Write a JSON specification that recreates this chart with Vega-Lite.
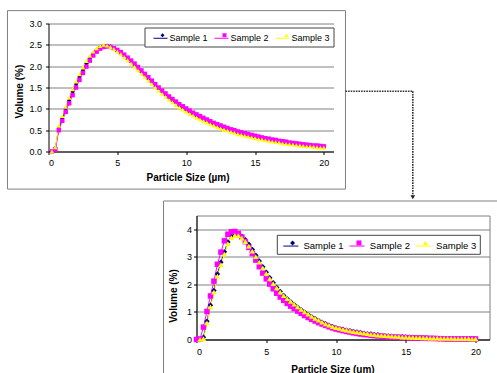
{
"$schema":"https://vega.github.io/schema/vega-lite/v6.json",
"background":"white",
"padding":{"left":6.5,"top":9.5,"right":0,"bottom":0},
"spacing":0,
"config":{"font":"Liberation Sans","view":{"stroke":null},
"axis":{"domainColor":"black","tickColor":"black","tickSize":3,"labelFont":"Liberation Sans","labelFontSize":9,"labelColor":"black","titleFont":"Liberation Sans","titleFontSize":10,"titleFontWeight":"bold","titleColor":"black","gridColor":"#808080","gridWidth":1,"labelOverlap":false},
"axisX":{"grid":false},"axisY":{"grid":true}},
"resolve":{"scale":{"stroke":"independent","fill":"independent","shape":"independent"}},
"datasets":{
"top":[
{"x":0.25,"s":"Sample 1","v":0},{"x":0.5,"s":"Sample 1","v":0.08},{"x":0.75,"s":"Sample 1","v":0.55},{"x":1,"s":"Sample 1","v":0.78},{"x":1.25,"s":"Sample 1","v":1},{"x":1.5,"s":"Sample 1","v":1.2},{"x":1.75,"s":"Sample 1","v":1.4},{"x":2,"s":"Sample 1","v":1.58},{"x":2.25,"s":"Sample 1","v":1.75},{"x":2.5,"s":"Sample 1","v":1.91},{"x":2.75,"s":"Sample 1","v":2.06},{"x":3,"s":"Sample 1","v":2.19},{"x":3.25,"s":"Sample 1","v":2.3},{"x":3.5,"s":"Sample 1","v":2.38},{"x":3.75,"s":"Sample 1","v":2.44},{"x":4,"s":"Sample 1","v":2.47},{"x":4.25,"s":"Sample 1","v":2.48},{"x":4.5,"s":"Sample 1","v":2.46},{"x":4.75,"s":"Sample 1","v":2.42},{"x":5,"s":"Sample 1","v":2.37},{"x":5.25,"s":"Sample 1","v":2.31},{"x":5.5,"s":"Sample 1","v":2.25},{"x":5.75,"s":"Sample 1","v":2.18},{"x":6,"s":"Sample 1","v":2.11},{"x":6.25,"s":"Sample 1","v":2.03},{"x":6.5,"s":"Sample 1","v":1.95},{"x":6.75,"s":"Sample 1","v":1.87},{"x":7,"s":"Sample 1","v":1.79},{"x":7.25,"s":"Sample 1","v":1.71},{"x":7.5,"s":"Sample 1","v":1.63},{"x":7.75,"s":"Sample 1","v":1.55},{"x":8,"s":"Sample 1","v":1.47},{"x":8.25,"s":"Sample 1","v":1.4},{"x":8.5,"s":"Sample 1","v":1.33},{"x":8.75,"s":"Sample 1","v":1.26},{"x":9,"s":"Sample 1","v":1.2},{"x":9.25,"s":"Sample 1","v":1.14},{"x":9.5,"s":"Sample 1","v":1.08},{"x":9.75,"s":"Sample 1","v":1.03},{"x":10,"s":"Sample 1","v":0.98},{"x":10.25,"s":"Sample 1","v":0.93},{"x":10.5,"s":"Sample 1","v":0.88},{"x":10.75,"s":"Sample 1","v":0.84},{"x":11,"s":"Sample 1","v":0.8},{"x":11.25,"s":"Sample 1","v":0.76},{"x":11.5,"s":"Sample 1","v":0.72},{"x":11.75,"s":"Sample 1","v":0.68},{"x":12,"s":"Sample 1","v":0.64},{"x":12.25,"s":"Sample 1","v":0.61},{"x":12.5,"s":"Sample 1","v":0.58},{"x":12.75,"s":"Sample 1","v":0.55},{"x":13,"s":"Sample 1","v":0.52},{"x":13.25,"s":"Sample 1","v":0.49},{"x":13.5,"s":"Sample 1","v":0.47},{"x":13.75,"s":"Sample 1","v":0.44},{"x":14,"s":"Sample 1","v":0.42},{"x":14.25,"s":"Sample 1","v":0.4},{"x":14.5,"s":"Sample 1","v":0.38},{"x":14.75,"s":"Sample 1","v":0.36},{"x":15,"s":"Sample 1","v":0.34},{"x":15.25,"s":"Sample 1","v":0.32},{"x":15.5,"s":"Sample 1","v":0.3},{"x":15.75,"s":"Sample 1","v":0.29},{"x":16,"s":"Sample 1","v":0.27},{"x":16.25,"s":"Sample 1","v":0.26},{"x":16.5,"s":"Sample 1","v":0.24},{"x":16.75,"s":"Sample 1","v":0.23},{"x":17,"s":"Sample 1","v":0.22},{"x":17.25,"s":"Sample 1","v":0.2},{"x":17.5,"s":"Sample 1","v":0.19},{"x":17.75,"s":"Sample 1","v":0.18},{"x":18,"s":"Sample 1","v":0.17},{"x":18.25,"s":"Sample 1","v":0.16},{"x":18.5,"s":"Sample 1","v":0.15},{"x":18.75,"s":"Sample 1","v":0.14},{"x":19,"s":"Sample 1","v":0.13},{"x":19.25,"s":"Sample 1","v":0.12},{"x":19.5,"s":"Sample 1","v":0.12},{"x":19.75,"s":"Sample 1","v":0.11},{"x":20,"s":"Sample 1","v":0.1},
{"x":0.25,"s":"Sample 2","v":0},{"x":0.5,"s":"Sample 2","v":0.05},{"x":0.75,"s":"Sample 2","v":0.5},{"x":1,"s":"Sample 2","v":0.72},{"x":1.25,"s":"Sample 2","v":0.93},{"x":1.5,"s":"Sample 2","v":1.13},{"x":1.75,"s":"Sample 2","v":1.32},{"x":2,"s":"Sample 2","v":1.5},{"x":2.25,"s":"Sample 2","v":1.68},{"x":2.5,"s":"Sample 2","v":1.84},{"x":2.75,"s":"Sample 2","v":1.99},{"x":3,"s":"Sample 2","v":2.13},{"x":3.25,"s":"Sample 2","v":2.25},{"x":3.5,"s":"Sample 2","v":2.34},{"x":3.75,"s":"Sample 2","v":2.41},{"x":4,"s":"Sample 2","v":2.45},{"x":4.25,"s":"Sample 2","v":2.46},{"x":4.5,"s":"Sample 2","v":2.45},{"x":4.75,"s":"Sample 2","v":2.42},{"x":5,"s":"Sample 2","v":2.38},{"x":5.25,"s":"Sample 2","v":2.33},{"x":5.5,"s":"Sample 2","v":2.27},{"x":5.75,"s":"Sample 2","v":2.2},{"x":6,"s":"Sample 2","v":2.13},{"x":6.25,"s":"Sample 2","v":2.06},{"x":6.5,"s":"Sample 2","v":1.98},{"x":6.75,"s":"Sample 2","v":1.9},{"x":7,"s":"Sample 2","v":1.82},{"x":7.25,"s":"Sample 2","v":1.74},{"x":7.5,"s":"Sample 2","v":1.66},{"x":7.75,"s":"Sample 2","v":1.58},{"x":8,"s":"Sample 2","v":1.5},{"x":8.25,"s":"Sample 2","v":1.43},{"x":8.5,"s":"Sample 2","v":1.36},{"x":8.75,"s":"Sample 2","v":1.29},{"x":9,"s":"Sample 2","v":1.23},{"x":9.25,"s":"Sample 2","v":1.17},{"x":9.5,"s":"Sample 2","v":1.11},{"x":9.75,"s":"Sample 2","v":1.06},{"x":10,"s":"Sample 2","v":1.01},{"x":10.25,"s":"Sample 2","v":0.96},{"x":10.5,"s":"Sample 2","v":0.91},{"x":10.75,"s":"Sample 2","v":0.87},{"x":11,"s":"Sample 2","v":0.83},{"x":11.25,"s":"Sample 2","v":0.79},{"x":11.5,"s":"Sample 2","v":0.75},{"x":11.75,"s":"Sample 2","v":0.71},{"x":12,"s":"Sample 2","v":0.67},{"x":12.25,"s":"Sample 2","v":0.64},{"x":12.5,"s":"Sample 2","v":0.61},{"x":12.75,"s":"Sample 2","v":0.58},{"x":13,"s":"Sample 2","v":0.55},{"x":13.25,"s":"Sample 2","v":0.52},{"x":13.5,"s":"Sample 2","v":0.5},{"x":13.75,"s":"Sample 2","v":0.47},{"x":14,"s":"Sample 2","v":0.45},{"x":14.25,"s":"Sample 2","v":0.43},{"x":14.5,"s":"Sample 2","v":0.41},{"x":14.75,"s":"Sample 2","v":0.39},{"x":15,"s":"Sample 2","v":0.37},{"x":15.25,"s":"Sample 2","v":0.35},{"x":15.5,"s":"Sample 2","v":0.33},{"x":15.75,"s":"Sample 2","v":0.31},{"x":16,"s":"Sample 2","v":0.3},{"x":16.25,"s":"Sample 2","v":0.28},{"x":16.5,"s":"Sample 2","v":0.27},{"x":16.75,"s":"Sample 2","v":0.25},{"x":17,"s":"Sample 2","v":0.24},{"x":17.25,"s":"Sample 2","v":0.23},{"x":17.5,"s":"Sample 2","v":0.21},{"x":17.75,"s":"Sample 2","v":0.2},{"x":18,"s":"Sample 2","v":0.19},{"x":18.25,"s":"Sample 2","v":0.18},{"x":18.5,"s":"Sample 2","v":0.17},{"x":18.75,"s":"Sample 2","v":0.16},{"x":19,"s":"Sample 2","v":0.15},{"x":19.25,"s":"Sample 2","v":0.14},{"x":19.5,"s":"Sample 2","v":0.14},{"x":19.75,"s":"Sample 2","v":0.13},{"x":20,"s":"Sample 2","v":0.12},
{"x":0.25,"s":"Sample 3","v":0},{"x":0.5,"s":"Sample 3","v":0.1},{"x":0.75,"s":"Sample 3","v":0.6},{"x":1,"s":"Sample 3","v":0.83},{"x":1.25,"s":"Sample 3","v":1.05},{"x":1.5,"s":"Sample 3","v":1.26},{"x":1.75,"s":"Sample 3","v":1.46},{"x":2,"s":"Sample 3","v":1.64},{"x":2.25,"s":"Sample 3","v":1.81},{"x":2.5,"s":"Sample 3","v":1.97},{"x":2.75,"s":"Sample 3","v":2.12},{"x":3,"s":"Sample 3","v":2.24},{"x":3.25,"s":"Sample 3","v":2.34},{"x":3.5,"s":"Sample 3","v":2.42},{"x":3.75,"s":"Sample 3","v":2.47},{"x":4,"s":"Sample 3","v":2.5},{"x":4.25,"s":"Sample 3","v":2.48},{"x":4.5,"s":"Sample 3","v":2.45},{"x":4.75,"s":"Sample 3","v":2.4},{"x":5,"s":"Sample 3","v":2.34},{"x":5.25,"s":"Sample 3","v":2.28},{"x":5.5,"s":"Sample 3","v":2.21},{"x":5.75,"s":"Sample 3","v":2.14},{"x":6,"s":"Sample 3","v":2.06},{"x":6.25,"s":"Sample 3","v":1.98},{"x":6.5,"s":"Sample 3","v":1.9},{"x":6.75,"s":"Sample 3","v":1.82},{"x":7,"s":"Sample 3","v":1.74},{"x":7.25,"s":"Sample 3","v":1.66},{"x":7.5,"s":"Sample 3","v":1.58},{"x":7.75,"s":"Sample 3","v":1.5},{"x":8,"s":"Sample 3","v":1.42},{"x":8.25,"s":"Sample 3","v":1.35},{"x":8.5,"s":"Sample 3","v":1.28},{"x":8.75,"s":"Sample 3","v":1.21},{"x":9,"s":"Sample 3","v":1.15},{"x":9.25,"s":"Sample 3","v":1.09},{"x":9.5,"s":"Sample 3","v":1.03},{"x":9.75,"s":"Sample 3","v":0.98},{"x":10,"s":"Sample 3","v":0.93},{"x":10.25,"s":"Sample 3","v":0.88},{"x":10.5,"s":"Sample 3","v":0.84},{"x":10.75,"s":"Sample 3","v":0.79},{"x":11,"s":"Sample 3","v":0.75},{"x":11.25,"s":"Sample 3","v":0.71},{"x":11.5,"s":"Sample 3","v":0.68},{"x":11.75,"s":"Sample 3","v":0.64},{"x":12,"s":"Sample 3","v":0.61},{"x":12.25,"s":"Sample 3","v":0.57},{"x":12.5,"s":"Sample 3","v":0.54},{"x":12.75,"s":"Sample 3","v":0.51},{"x":13,"s":"Sample 3","v":0.49},{"x":13.25,"s":"Sample 3","v":0.46},{"x":13.5,"s":"Sample 3","v":0.44},{"x":13.75,"s":"Sample 3","v":0.41},{"x":14,"s":"Sample 3","v":0.39},{"x":14.25,"s":"Sample 3","v":0.37},{"x":14.5,"s":"Sample 3","v":0.35},{"x":14.75,"s":"Sample 3","v":0.33},{"x":15,"s":"Sample 3","v":0.31},{"x":15.25,"s":"Sample 3","v":0.29},{"x":15.5,"s":"Sample 3","v":0.28},{"x":15.75,"s":"Sample 3","v":0.26},{"x":16,"s":"Sample 3","v":0.25},{"x":16.25,"s":"Sample 3","v":0.23},{"x":16.5,"s":"Sample 3","v":0.22},{"x":16.75,"s":"Sample 3","v":0.21},{"x":17,"s":"Sample 3","v":0.19},{"x":17.25,"s":"Sample 3","v":0.18},{"x":17.5,"s":"Sample 3","v":0.17},{"x":17.75,"s":"Sample 3","v":0.16},{"x":18,"s":"Sample 3","v":0.15},{"x":18.25,"s":"Sample 3","v":0.14},{"x":18.5,"s":"Sample 3","v":0.13},{"x":18.75,"s":"Sample 3","v":0.12},{"x":19,"s":"Sample 3","v":0.12},{"x":19.25,"s":"Sample 3","v":0.11},{"x":19.5,"s":"Sample 3","v":0.1},{"x":19.75,"s":"Sample 3","v":0.09},{"x":20,"s":"Sample 3","v":0.09}
],
"bot":[
{"x":0.25,"s":"Sample 1","v":0},{"x":0.5,"s":"Sample 1","v":0.08},{"x":0.75,"s":"Sample 1","v":0.66},{"x":1,"s":"Sample 1","v":1.24},{"x":1.25,"s":"Sample 1","v":1.78},{"x":1.5,"s":"Sample 1","v":2.38},{"x":1.75,"s":"Sample 1","v":2.8},{"x":2,"s":"Sample 1","v":3.18},{"x":2.25,"s":"Sample 1","v":3.54},{"x":2.5,"s":"Sample 1","v":3.75},{"x":2.75,"s":"Sample 1","v":3.84},{"x":3,"s":"Sample 1","v":3.83},{"x":3.25,"s":"Sample 1","v":3.75},{"x":3.5,"s":"Sample 1","v":3.62},{"x":3.75,"s":"Sample 1","v":3.46},{"x":4,"s":"Sample 1","v":3.27},{"x":4.25,"s":"Sample 1","v":3.06},{"x":4.5,"s":"Sample 1","v":2.85},{"x":4.75,"s":"Sample 1","v":2.64},{"x":5,"s":"Sample 1","v":2.44},{"x":5.25,"s":"Sample 1","v":2.24},{"x":5.5,"s":"Sample 1","v":2.06},{"x":5.75,"s":"Sample 1","v":1.89},{"x":6,"s":"Sample 1","v":1.74},{"x":6.25,"s":"Sample 1","v":1.6},{"x":6.5,"s":"Sample 1","v":1.48},{"x":6.75,"s":"Sample 1","v":1.37},{"x":7,"s":"Sample 1","v":1.27},{"x":7.25,"s":"Sample 1","v":1.17},{"x":7.5,"s":"Sample 1","v":1.08},{"x":7.75,"s":"Sample 1","v":0.99},{"x":8,"s":"Sample 1","v":0.91},{"x":8.25,"s":"Sample 1","v":0.83},{"x":8.5,"s":"Sample 1","v":0.76},{"x":8.75,"s":"Sample 1","v":0.69},{"x":9,"s":"Sample 1","v":0.63},{"x":9.25,"s":"Sample 1","v":0.57},{"x":9.5,"s":"Sample 1","v":0.52},{"x":9.75,"s":"Sample 1","v":0.47},{"x":10,"s":"Sample 1","v":0.43},{"x":10.25,"s":"Sample 1","v":0.4},{"x":10.5,"s":"Sample 1","v":0.37},{"x":10.75,"s":"Sample 1","v":0.34},{"x":11,"s":"Sample 1","v":0.32},{"x":11.25,"s":"Sample 1","v":0.29},{"x":11.5,"s":"Sample 1","v":0.27},{"x":11.75,"s":"Sample 1","v":0.25},{"x":12,"s":"Sample 1","v":0.23},{"x":12.25,"s":"Sample 1","v":0.21},{"x":12.5,"s":"Sample 1","v":0.2},{"x":12.75,"s":"Sample 1","v":0.18},{"x":13,"s":"Sample 1","v":0.17},{"x":13.25,"s":"Sample 1","v":0.15},{"x":13.5,"s":"Sample 1","v":0.14},{"x":13.75,"s":"Sample 1","v":0.13},{"x":14,"s":"Sample 1","v":0.12},{"x":14.25,"s":"Sample 1","v":0.11},{"x":14.5,"s":"Sample 1","v":0.1},{"x":14.75,"s":"Sample 1","v":0.1},{"x":15,"s":"Sample 1","v":0.09},{"x":15.25,"s":"Sample 1","v":0.08},{"x":15.5,"s":"Sample 1","v":0.08},{"x":15.75,"s":"Sample 1","v":0.07},{"x":16,"s":"Sample 1","v":0.07},{"x":16.25,"s":"Sample 1","v":0.06},{"x":16.5,"s":"Sample 1","v":0.06},{"x":16.75,"s":"Sample 1","v":0.05},{"x":17,"s":"Sample 1","v":0.05},{"x":17.25,"s":"Sample 1","v":0.05},{"x":17.5,"s":"Sample 1","v":0.04},{"x":17.75,"s":"Sample 1","v":0.04},{"x":18,"s":"Sample 1","v":0.04},{"x":18.25,"s":"Sample 1","v":0.04},{"x":18.5,"s":"Sample 1","v":0.03},{"x":18.75,"s":"Sample 1","v":0.03},{"x":19,"s":"Sample 1","v":0.03},{"x":19.25,"s":"Sample 1","v":0.03},{"x":19.5,"s":"Sample 1","v":0.03},{"x":19.75,"s":"Sample 1","v":0.03},{"x":20,"s":"Sample 1","v":0.03},
{"x":0,"s":"Sample 2","v":0},{"x":0.25,"s":"Sample 2","v":0.02},{"x":0.5,"s":"Sample 2","v":0.45},{"x":0.75,"s":"Sample 2","v":1.02},{"x":1,"s":"Sample 2","v":1.58},{"x":1.25,"s":"Sample 2","v":2.12},{"x":1.5,"s":"Sample 2","v":2.73},{"x":1.75,"s":"Sample 2","v":3.17},{"x":2,"s":"Sample 2","v":3.58},{"x":2.25,"s":"Sample 2","v":3.82},{"x":2.5,"s":"Sample 2","v":3.91},{"x":2.75,"s":"Sample 2","v":3.92},{"x":3,"s":"Sample 2","v":3.85},{"x":3.25,"s":"Sample 2","v":3.72},{"x":3.5,"s":"Sample 2","v":3.55},{"x":3.75,"s":"Sample 2","v":3.34},{"x":4,"s":"Sample 2","v":3.12},{"x":4.25,"s":"Sample 2","v":2.88},{"x":4.5,"s":"Sample 2","v":2.64},{"x":4.75,"s":"Sample 2","v":2.41},{"x":5,"s":"Sample 2","v":2.2},{"x":5.25,"s":"Sample 2","v":2.01},{"x":5.5,"s":"Sample 2","v":1.84},{"x":5.75,"s":"Sample 2","v":1.68},{"x":6,"s":"Sample 2","v":1.54},{"x":6.25,"s":"Sample 2","v":1.42},{"x":6.5,"s":"Sample 2","v":1.31},{"x":6.75,"s":"Sample 2","v":1.21},{"x":7,"s":"Sample 2","v":1.12},{"x":7.25,"s":"Sample 2","v":1.03},{"x":7.5,"s":"Sample 2","v":0.95},{"x":7.75,"s":"Sample 2","v":0.87},{"x":8,"s":"Sample 2","v":0.8},{"x":8.25,"s":"Sample 2","v":0.73},{"x":8.5,"s":"Sample 2","v":0.67},{"x":8.75,"s":"Sample 2","v":0.61},{"x":9,"s":"Sample 2","v":0.56},{"x":9.25,"s":"Sample 2","v":0.51},{"x":9.5,"s":"Sample 2","v":0.46},{"x":9.75,"s":"Sample 2","v":0.42},{"x":10,"s":"Sample 2","v":0.38},{"x":10.25,"s":"Sample 2","v":0.35},{"x":10.5,"s":"Sample 2","v":0.32},{"x":10.75,"s":"Sample 2","v":0.29},{"x":11,"s":"Sample 2","v":0.27},{"x":11.25,"s":"Sample 2","v":0.24},{"x":11.5,"s":"Sample 2","v":0.22},{"x":11.75,"s":"Sample 2","v":0.2},{"x":12,"s":"Sample 2","v":0.18},{"x":12.25,"s":"Sample 2","v":0.17},{"x":12.5,"s":"Sample 2","v":0.15},{"x":12.75,"s":"Sample 2","v":0.14},{"x":13,"s":"Sample 2","v":0.13},{"x":13.25,"s":"Sample 2","v":0.12},{"x":13.5,"s":"Sample 2","v":0.11},{"x":13.75,"s":"Sample 2","v":0.1},{"x":14,"s":"Sample 2","v":0.09},{"x":14.25,"s":"Sample 2","v":0.08},{"x":14.5,"s":"Sample 2","v":0.08},{"x":14.75,"s":"Sample 2","v":0.07},{"x":15,"s":"Sample 2","v":0.07},{"x":15.25,"s":"Sample 2","v":0.06},{"x":15.5,"s":"Sample 2","v":0.06},{"x":15.75,"s":"Sample 2","v":0.05},{"x":16,"s":"Sample 2","v":0.05},{"x":16.25,"s":"Sample 2","v":0.05},{"x":16.5,"s":"Sample 2","v":0.04},{"x":16.75,"s":"Sample 2","v":0.04},{"x":17,"s":"Sample 2","v":0.04},{"x":17.25,"s":"Sample 2","v":0.03},{"x":17.5,"s":"Sample 2","v":0.03},{"x":17.75,"s":"Sample 2","v":0.02},{"x":18,"s":"Sample 2","v":0.02},{"x":18.25,"s":"Sample 2","v":0.02},{"x":18.5,"s":"Sample 2","v":0.02},{"x":18.75,"s":"Sample 2","v":0.02},{"x":19,"s":"Sample 2","v":0.02},{"x":19.25,"s":"Sample 2","v":0.02},{"x":19.5,"s":"Sample 2","v":0.02},{"x":19.75,"s":"Sample 2","v":0.02},{"x":20,"s":"Sample 2","v":0.02},
{"x":0.25,"s":"Sample 3","v":0},{"x":0.5,"s":"Sample 3","v":0.03},{"x":0.75,"s":"Sample 3","v":0.6},{"x":1,"s":"Sample 3","v":1.18},{"x":1.25,"s":"Sample 3","v":1.72},{"x":1.5,"s":"Sample 3","v":2.3},{"x":1.75,"s":"Sample 3","v":2.72},{"x":2,"s":"Sample 3","v":3.1},{"x":2.25,"s":"Sample 3","v":3.48},{"x":2.5,"s":"Sample 3","v":3.7},{"x":2.75,"s":"Sample 3","v":3.78},{"x":3,"s":"Sample 3","v":3.77},{"x":3.25,"s":"Sample 3","v":3.68},{"x":3.5,"s":"Sample 3","v":3.55},{"x":3.75,"s":"Sample 3","v":3.39},{"x":4,"s":"Sample 3","v":3.21},{"x":4.25,"s":"Sample 3","v":3.01},{"x":4.5,"s":"Sample 3","v":2.81},{"x":4.75,"s":"Sample 3","v":2.6},{"x":5,"s":"Sample 3","v":2.4},{"x":5.25,"s":"Sample 3","v":2.21},{"x":5.5,"s":"Sample 3","v":2.03},{"x":5.75,"s":"Sample 3","v":1.87},{"x":6,"s":"Sample 3","v":1.72},{"x":6.25,"s":"Sample 3","v":1.59},{"x":6.5,"s":"Sample 3","v":1.48},{"x":6.75,"s":"Sample 3","v":1.38},{"x":7,"s":"Sample 3","v":1.28},{"x":7.25,"s":"Sample 3","v":1.18},{"x":7.5,"s":"Sample 3","v":1.09},{"x":7.75,"s":"Sample 3","v":1},{"x":8,"s":"Sample 3","v":0.92},{"x":8.25,"s":"Sample 3","v":0.84},{"x":8.5,"s":"Sample 3","v":0.77},{"x":8.75,"s":"Sample 3","v":0.7},{"x":9,"s":"Sample 3","v":0.63},{"x":9.25,"s":"Sample 3","v":0.57},{"x":9.5,"s":"Sample 3","v":0.52},{"x":9.75,"s":"Sample 3","v":0.47},{"x":10,"s":"Sample 3","v":0.43},{"x":10.25,"s":"Sample 3","v":0.4},{"x":10.5,"s":"Sample 3","v":0.37},{"x":10.75,"s":"Sample 3","v":0.34},{"x":11,"s":"Sample 3","v":0.31},{"x":11.25,"s":"Sample 3","v":0.29},{"x":11.5,"s":"Sample 3","v":0.27},{"x":11.75,"s":"Sample 3","v":0.25},{"x":12,"s":"Sample 3","v":0.23},{"x":12.25,"s":"Sample 3","v":0.21},{"x":12.5,"s":"Sample 3","v":0.19},{"x":12.75,"s":"Sample 3","v":0.18},{"x":13,"s":"Sample 3","v":0.16},{"x":13.25,"s":"Sample 3","v":0.15},{"x":13.5,"s":"Sample 3","v":0.14},{"x":13.75,"s":"Sample 3","v":0.13},{"x":14,"s":"Sample 3","v":0.12},{"x":14.25,"s":"Sample 3","v":0.11},{"x":14.5,"s":"Sample 3","v":0.1},{"x":14.75,"s":"Sample 3","v":0.09},{"x":15,"s":"Sample 3","v":0.09},{"x":15.25,"s":"Sample 3","v":0.08},{"x":15.5,"s":"Sample 3","v":0.08},{"x":15.75,"s":"Sample 3","v":0.07},{"x":16,"s":"Sample 3","v":0.07},{"x":16.25,"s":"Sample 3","v":0.06},{"x":16.5,"s":"Sample 3","v":0.06},{"x":16.75,"s":"Sample 3","v":0.05},{"x":17,"s":"Sample 3","v":0.05},{"x":17.25,"s":"Sample 3","v":0.05},{"x":17.5,"s":"Sample 3","v":0.04},{"x":17.75,"s":"Sample 3","v":0.04},{"x":18,"s":"Sample 3","v":0.04},{"x":18.25,"s":"Sample 3","v":0.04},{"x":18.5,"s":"Sample 3","v":0.03},{"x":18.75,"s":"Sample 3","v":0.03},{"x":19,"s":"Sample 3","v":0.03},{"x":19.25,"s":"Sample 3","v":0.03},{"x":19.5,"s":"Sample 3","v":0.03},{"x":19.75,"s":"Sample 3","v":0.02},{"x":20,"s":"Sample 3","v":0.02}
]},
"vconcat":[
{"width":285,"height":128,"view":{"stroke":null},
"layer":[
{"data":{"name":"top"},"mark":{"type":"line","strokeWidth":1},
"encoding":{
"x":{"field":"x","type":"quantitative","scale":{"domain":[0,20.7],"nice":false,"zero":false},"axis":{"values":[0,5,10,15,20],"tickCount":5,"title":"Particle Size (µm)","titleX":139,"titleY":26,"titleBaseline":"middle","labelPadding":4,"grid":false,"labelOverlap":false}},
"y":{"field":"v","type":"quantitative","scale":{"domain":[0,3],"nice":false},"axis":{"values":[0,0.5,1,1.5,2,2.5,3],"tickCount":7,"format":".1f","title":"Volume (%)","titleX":-28.7,"titleY":67.6,"titleBaseline":"middle","labelPadding":4,"labelOverlap":false}},
"stroke":{"field":"s","type":"nominal","scale":{"domain":["Sample 1","Sample 2","Sample 3"],"range":["#000080","#FF00FF","#FFFF00"]},
"legend":{"orient":"none","legendX":96,"legendY":4,"direction":"horizontal","title":null,"strokeColor":"#444444","fillColor":"white","padding":3,"symbolType":"stroke","symbolSize":196,"symbolStrokeWidth":1,"symbolOffset":5.5,"labelOffset":1.5,"columnPadding":-2.5,"labelFontSize":9,"labelColor":"black","zindex":1}}}},
{"data":{"name":"top"},"mark":{"type":"point","filled":true,"size":20,"opacity":1},
"encoding":{
"x":{"field":"x","type":"quantitative","axis":{"values":[0,5,10,15,20],"tickCount":5,"title":"Particle Size (µm)","titleX":139,"titleY":26,"titleBaseline":"middle","labelPadding":4,"grid":false,"labelOverlap":false}},
"y":{"field":"v","type":"quantitative","axis":{"values":[0,0.5,1,1.5,2,2.5,3],"tickCount":7,"format":".1f","title":"Volume (%)","titleX":-28.7,"titleY":67.6,"titleBaseline":"middle","labelPadding":4,"labelOverlap":false}},
"fill":{"field":"s","type":"nominal","scale":{"range":["#000080","#FF00FF","#FFFF00"]},
"legend":{"orient":"none","legendX":96,"legendY":4,"direction":"horizontal","title":null,"padding":3,"symbolSize":16,"symbolStrokeWidth":1,"symbolOffset":10.5,"labelOffset":0,"labelExpr":"' '","columnPadding":42,"labelFontSize":9,"zindex":2}},
"shape":{"field":"s","type":"nominal","scale":{"range":["diamond","square","triangle-up"]},
"legend":{"orient":"none","legendX":96,"legendY":4,"direction":"horizontal","title":null,"padding":3,"symbolSize":16,"symbolStrokeWidth":1,"symbolOffset":10.5,"labelOffset":0,"labelExpr":"' '","columnPadding":42,"labelFontSize":9,"zindex":2}}}},
{"data":{"values":[{}]},"mark":{"type":"rect","fill":"transparent","stroke":"#808080","strokeWidth":1},
"encoding":{"x":{"datum":-2.98,"type":"quantitative","axis":{"values":[0,5,10,15,20],"tickCount":5,"title":"Particle Size (µm)","titleX":139,"titleY":26,"titleBaseline":"middle","labelPadding":4,"grid":false,"labelOverlap":false}},"x2":{"datum":21.57},"y":{"datum":3.302,"type":"quantitative","axis":{"values":[0,0.5,1,1.5,2,2.5,3],"tickCount":7,"format":".1f","title":"Volume (%)","titleX":-28.7,"titleY":67.6,"titleBaseline":"middle","labelPadding":4,"labelOverlap":false}},"y2":{"datum":-0.881}}},
{"data":{"values":[{}]},"mark":{"type":"rule","color":"#333333","strokeWidth":1.6,"strokeDash":[1.6,1]},
"encoding":{"x":{"datum":21.57,"type":"quantitative","axis":{"values":[0,5,10,15,20],"tickCount":5,"title":"Particle Size (µm)","titleX":139,"titleY":26,"titleBaseline":"middle","labelPadding":4,"grid":false,"labelOverlap":false}},"x2":{"datum":26.46},"y":{"datum":1.411,"type":"quantitative","axis":{"values":[0,0.5,1,1.5,2,2.5,3],"tickCount":7,"format":".1f","title":"Volume (%)","titleX":-28.7,"titleY":67.6,"titleBaseline":"middle","labelPadding":4,"labelOverlap":false}}}},
{"data":{"values":[{}]},"mark":{"type":"rule","color":"#333333","strokeWidth":1.6,"strokeDash":[1.6,1]},
"encoding":{"x":{"datum":26.46,"type":"quantitative","axis":{"values":[0,5,10,15,20],"tickCount":5,"title":"Particle Size (µm)","titleX":139,"titleY":26,"titleBaseline":"middle","labelPadding":4,"grid":false,"labelOverlap":false}},"y":{"datum":1.411,"type":"quantitative","axis":{"values":[0,0.5,1,1.5,2,2.5,3],"tickCount":7,"format":".1f","title":"Volume (%)","titleX":-28.7,"titleY":67.6,"titleBaseline":"middle","labelPadding":4,"labelOverlap":false}},"y2":{"datum":-1.034}}},
{"data":{"values":[{}]},"mark":{"type":"point","shape":"triangle-down","filled":true,"size":22,"color":"#222222","opacity":1},
"encoding":{"x":{"datum":26.46,"type":"quantitative","axis":{"values":[0,5,10,15,20],"tickCount":5,"title":"Particle Size (µm)","titleX":139,"titleY":26,"titleBaseline":"middle","labelPadding":4,"grid":false,"labelOverlap":false}},"y":{"datum":-1.073,"type":"quantitative","axis":{"values":[0,0.5,1,1.5,2,2.5,3],"tickCount":7,"format":".1f","title":"Volume (%)","titleX":-28.7,"titleY":67.6,"titleBaseline":"middle","labelPadding":4,"labelOverlap":false}}}}
]},
{"spacing":0,"resolve":{"scale":{"stroke":"independent","fill":"independent","shape":"independent"}},
"hconcat":[
{"width":114,"height":10,"view":{"stroke":null},"data":{"values":[]},"mark":"point"},
{"width":293,"height":124,"view":{"stroke":"#808080"},
"layer":[
{"data":{"name":"bot"},"mark":{"type":"line","strokeWidth":1},
"encoding":{
"x":{"field":"x","type":"quantitative","scale":{"domain":[0,21],"nice":false,"zero":false},"axis":{"values":[0,5,10,15,20],"tickCount":5,"title":"Particle Size (um)","titleX":136,"titleY":29.5,"titleBaseline":"middle","labelPadding":5,"grid":false,"labelOverlap":false}},
"y":{"field":"v","type":"quantitative","scale":{"domain":[0,4.5],"nice":false},"axis":{"values":[0,1,2,3,4],"tickCount":5,"format":"d","title":"Volume (%)","titleX":-22.7,"titleY":80,"titleBaseline":"middle","labelPadding":2,"labelOverlap":false}},
"stroke":{"field":"s","type":"nominal","scale":{"domain":["Sample 1","Sample 2","Sample 3"],"range":["#000080","#FF00FF","#FFFF00"]},
"legend":{"orient":"none","legendX":80.3,"legendY":19.3,"direction":"horizontal","title":null,"strokeColor":"#444444","fillColor":"white","padding":3,"symbolType":"stroke","symbolSize":225,"symbolStrokeWidth":1,"symbolOffset":3,"labelOffset":4.7,"columnPadding":2.3,"labelFontSize":9.5,"labelColor":"black","zindex":1}}}},
{"data":{"name":"bot"},"mark":{"type":"point","filled":true,"size":30,"opacity":1},
"encoding":{
"x":{"field":"x","type":"quantitative","axis":{"values":[0,5,10,15,20],"tickCount":5,"title":"Particle Size (um)","titleX":136,"titleY":29.5,"titleBaseline":"middle","labelPadding":5,"grid":false,"labelOverlap":false}},
"y":{"field":"v","type":"quantitative","axis":{"values":[0,1,2,3,4],"tickCount":5,"format":"d","title":"Volume (%)","titleX":-22.7,"titleY":80,"titleBaseline":"middle","labelPadding":2,"labelOverlap":false}},
"fill":{"field":"s","type":"nominal","scale":{"range":["#000080","#FF00FF","#FFFF00"]},
"legend":{"orient":"none","legendX":80.3,"legendY":19.3,"direction":"horizontal","title":null,"padding":3,"symbolSize":25,"symbolStrokeWidth":1,"symbolOffset":8,"labelOffset":0,"labelExpr":"' '","columnPadding":48.4,"labelFontSize":9.5,"zindex":2}},
"shape":{"field":"s","type":"nominal","scale":{"range":["diamond","square","triangle-up"]},
"legend":{"orient":"none","legendX":80.3,"legendY":19.3,"direction":"horizontal","title":null,"padding":3,"symbolSize":25,"symbolStrokeWidth":1,"symbolOffset":8,"labelOffset":0,"labelExpr":"' '","columnPadding":48.4,"labelFontSize":9.5,"zindex":2}}}},
{"data":{"values":[{}]},"mark":{"type":"rect","fill":"transparent","stroke":"#808080","strokeWidth":1},
"encoding":{"x":{"datum":-2.365,"type":"quantitative","axis":{"values":[0,5,10,15,20],"tickCount":5,"title":"Particle Size (um)","titleX":136,"titleY":29.5,"titleBaseline":"middle","labelPadding":5,"grid":false,"labelOverlap":false}},"x2":{"datum":21.81},"y":{"datum":5.026,"type":"quantitative","axis":{"values":[0,1,2,3,4],"tickCount":5,"format":"d","title":"Volume (%)","titleX":-22.7,"titleY":80,"titleBaseline":"middle","labelPadding":2,"labelOverlap":false}},"y2":{"datum":-1.506}}}
]}
]}
]
}
